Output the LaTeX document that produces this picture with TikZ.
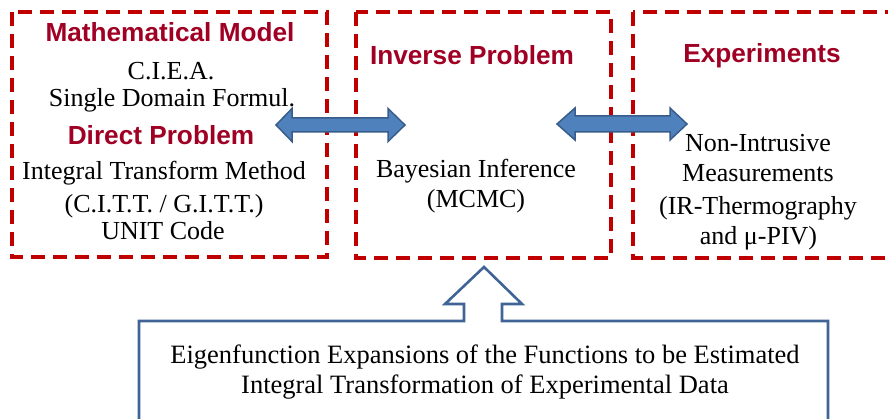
\documentclass[tikz,border=0pt]{standalone}
\usepackage{fontspec}
\setmainfont{Liberation Serif}
\newfontfamily\hdrfont{Liberation Sans}
\usetikzlibrary{calc}
\definecolor{dred}{RGB}{192,0,0}
\definecolor{hred}{RGB}{160,0,36}
\definecolor{afill}{RGB}{79,129,189}
\definecolor{aline}{RGB}{56,93,138}
\definecolor{bline}{RGB}{65,100,150}
\tikzset{
  dbox/.style={draw=dred, line width=3.6pt, dash pattern=on 14pt off 8pt},
  body/.style={anchor=base, inner sep=0pt, font=\fontsize{26}{30}\selectfont},
  head/.style={anchor=base, inner sep=0pt, text=hred, font=\hdrfont\bfseries\fontsize{26.2}{30}\selectfont},
  blockarrow/.style={fill=afill, draw=aline, line width=1.5pt, line join=miter},
  outlinebox/.style={draw=bline, line width=2.6pt, fill=white, line join=miter}
}
\begin{document}
\begin{tikzpicture}[x=1pt,y=-1pt]
\clip (0,0) rectangle (888,419);
\fill[white] (0,0) rectangle (888,419);
% dashed boxes
\draw[dbox] (12,12) rectangle (327,257);
\draw[dbox] (356,12) rectangle (611,258);
\draw[dbox] (633,12) rectangle (905,258);
% box 1 texts
\node[head] (mm) at (170,42) {Mathematical Model};
\node[body] (ciea) at (171,80) {C.I.E.A.};
\node[body] (sdf) at (172,107) {Single Domain Formul.};
\node[head] (dp) at (161,145) {Direct Problem};
\node[body] (itm) at (164,180) {Integral Transform Method};
\node[body] (citt) at (164,213) {(C.I.T.T. / G.I.T.T.)};
\node[body] (unit) at (163,240) {UNIT Code};
% box 2 texts
\node[head] (ip) at (472,65) {Inverse Problem};
\node[body] (bi) at (476,178) {Bayesian Inference};
\node[body] (mcmc) at (476,208) {(MCMC)};
% box 3 texts
\node[head] (ex) at (762,63) {Experiments};
\node[body] (ni) at (758,152) {Non-Intrusive};
\node[body] (meas) at (758,182) {Measurements};
\node[body] (irt) at (758,215) {(IR-Thermography};
\node[body] (piv) at (758.5,245) {and μ-PIV)};
% double arrows
\coordinate (aL) at (276,125);
\coordinate (aR) at (405,125);
\draw[blockarrow] (aL) -- ++(16,-16.5) -- ++(0,9.5) -- ($(aR)+(-17,-7)$) -- ++(0,-9.5)
  -- (aR) -- ++(-17,16.5) -- ++(0,-9.5) -- ($(aL)+(16,7)$) -- ++(0,9.5) -- cycle;
\coordinate (bL) at (557,124);
\coordinate (bR) at (687,124);
\draw[blockarrow] (bL) -- ++(18,-16) -- ++(0,8) -- ($(bR)+(-17,-8)$) -- ++(0,-8)
  -- (bR) -- ++(-17,16) -- ++(0,-8) -- ($(bL)+(18,8)$) -- ++(0,8) -- cycle;
% bottom box with up arrow
\coordinate (tip) at (484,267);
\draw[outlinebox] (139,440) -- (139,321) -- (464,321) -- (464,304) -- (445,304) -- (tip)
  -- (522,304) -- (502,304) -- (502,321) -- (828,321) -- (828,440);
\node[body, font=\fontsize{26.5}{30}\selectfont] (eig) at (485,363) {Eigenfunction Expansions of the Functions to be Estimated};
\node[body, font=\fontsize{26.5}{30}\selectfont] (itd) at (485,393) {Integral Transformation of Experimental Data};
\end{tikzpicture}
\end{document}
